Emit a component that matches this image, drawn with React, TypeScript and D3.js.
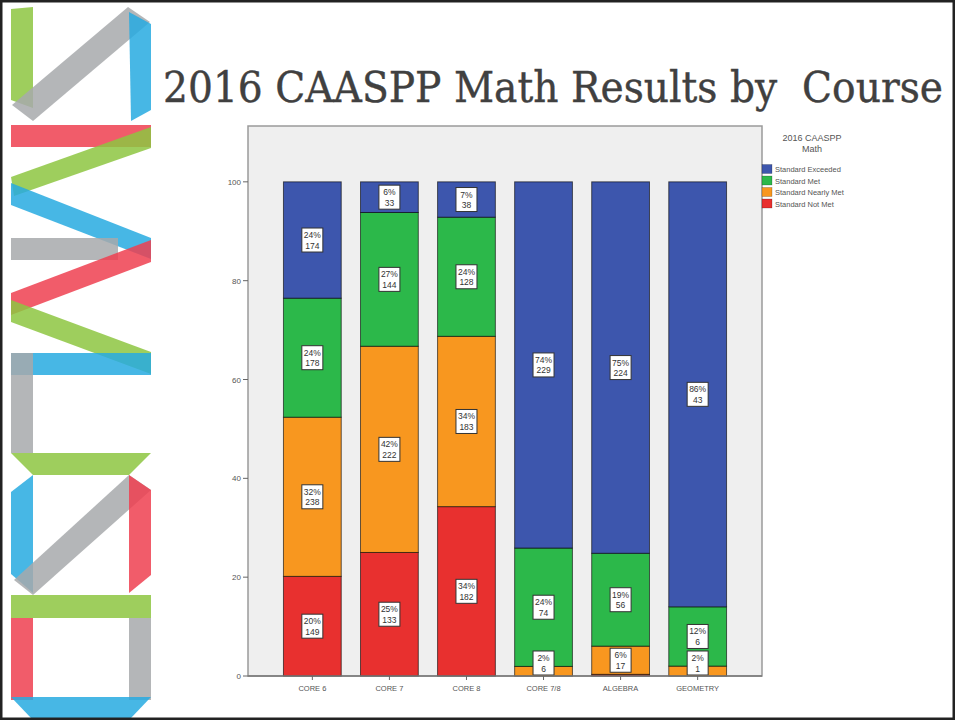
import { useEffect, useRef, useState } from 'react';
import * as d3 from 'd3';

// Counts per course, one array per performance level
const courses = ['CORE 6', 'CORE 7', 'CORE 8', 'CORE 7/8', 'ALGEBRA', 'GEOMETRY'];
const levels = ['Standard Exceeded', 'Standard Met', 'Standard Nearly Met', 'Standard Not Met'];
const notMet = [149, 133, 182, 0, 1, 0];
const nearlyMet = [238, 222, 183, 6, 17, 1];
const met = [178, 144, 128, 74, 56, 6];
const exceeded = [174, 33, 38, 229, 224, 43];
const yTicks = [0, 20, 40, 60, 80, 100];

const levelColors: Record<string, string> = {
  'Standard Exceeded': '#3d56ad',
  'Standard Met': '#2cb84a',
  'Standard Nearly Met': '#f8971f',
  'Standard Not Met': '#e8302f',
};

// decorative slide logo on the left edge
const LOGO = [
  { c: '#8dc641', p: '11,9 33,7 33,108 11,100' },
  { c: '#a7a9ac', p: '12,105 128,7 150,22 33,121' },
  { c: '#27aae1', p: '129,12 151,24 151,110 131,121' },
  { c: '#ef4050', p: '11,125 151,125 151,147 11,147' },
  { c: '#8dc641', p: '151,127 151,148 14,196 11,177' },
  { c: '#27aae1', p: '11,183 151,238 151,259 11,205' },
  { c: '#a7a9ac', p: '11,238 118,238 118,260 11,260' },
  { c: '#ef4050', p: '151,240 151,262 11,315 11,293' },
  { c: '#8dc641', p: '11,300 151,352 151,374 11,322' },
  { c: '#27aae1', p: '11,353 151,353 151,375 11,375' },
  { c: '#a7a9ac', p: '11,353 33,353 33,453 11,453' },
  { c: '#8dc641', p: '11,453 151,453 129,475 33,475' },
  { c: '#27aae1', p: '11,492 33,475 33,593 11,574' },
  { c: '#a7a9ac', p: '14,580 129,475 151,490 33,595' },
  { c: '#ef4050', p: '129,475 151,490 151,575 129,593' },
  { c: '#8dc641', p: '11,595 151,595 151,618 11,618' },
  { c: '#ef4050', p: '11,618 33,618 33,700 11,700' },
  { c: '#a7a9ac', p: '129,618 151,618 151,700 129,700' },
  { c: '#27aae1', p: '11,697 151,697 131,718 31,718' },
];

const W = 955;
const H = 720;
const plot = { left: 248, top: 126, right: 762, bottom: 676 };
const sans = '"Liberation Sans", Arial, sans-serif';
const TITLE_WIDTH = 780;

export default function App() {
  const titleRef = useRef<SVGTextElement>(null);
  const [titleScale, setTitleScale] = useState(0.9);

  useEffect(() => {
    document.body.style.margin = '0';
    if (titleRef.current) {
      const natural = titleRef.current.getComputedTextLength();
      if (natural > 0) setTitleScale(TITLE_WIDTH / natural);
    }
  }, []);

  const x = d3
    .scaleBand<string>()
    .domain(courses)
    .range([plot.left, plot.right])
    .paddingInner(0.25)
    .paddingOuter(0.46);
  const y = d3.scaleLinear().domain([0, 111.3]).range([plot.bottom, plot.top]);

  const byLevel: Record<string, number[]> = {
    'Standard Not Met': notMet,
    'Standard Nearly Met': nearlyMet,
    'Standard Met': met,
    'Standard Exceeded': exceeded,
  };
  const rows = courses.map((course, i) => {
    const total = notMet[i] + nearlyMet[i] + met[i] + exceeded[i];
    const row: Record<string, any> = { course };
    levels.forEach((l) => {
      row[l] = (byLevel[l][i] / total) * 100;
      row[l + '_n'] = byLevel[l][i];
    });
    return row;
  });
  const stackOrder = ['Standard Not Met', 'Standard Nearly Met', 'Standard Met', 'Standard Exceeded'];
  const series = d3.stack<Record<string, any>>().keys(stackOrder)(rows);

  return (
    <svg width={W} height={H} style={{ display: 'block', background: '#fff' }}>
      {/* logo */}
      <g>
        {LOGO.map((b, i) => (
          <polygon key={i} points={b.p} fill={b.c} opacity={0.85} />
        ))}
      </g>

      {/* title */}
      <g transform={`translate(163,102) scale(${titleScale},1)`}>
        <text
          ref={titleRef}
          x={0}
          y={0}
          fontFamily='"DejaVu Serif", serif'
          fontSize={43}
          fill="#404040"
          stroke="#404040"
          strokeWidth={0.4}
          style={{ whiteSpace: 'pre' }}
        >
          2016 CAASPP Math Results by  Course
        </text>
      </g>

      {/* plot frame */}
      <rect
        x={plot.left}
        y={plot.top}
        width={plot.right - plot.left}
        height={plot.bottom - plot.top}
        fill="#efefef"
        stroke="#9a9a9a"
        strokeWidth={1.5}
      />

      {/* y axis */}
      <g fontFamily={sans} fontSize={8} fill="#555">
        {yTicks.map((t) => (
          <g key={t}>
            <line x1={plot.left - 5} x2={plot.left} y1={y(t)} y2={y(t)} stroke="#666" />
            <text x={plot.left - 7} y={y(t) + 3} textAnchor="end">
              {t}
            </text>
          </g>
        ))}
      </g>

      {/* bars */}
      {series.map((s) => (
        <g key={s.key} fill={levelColors[s.key]}>
          {s.map((d, i) =>
            d[1] - d[0] > 0 ? (
              <rect
                key={i}
                x={x(courses[i])}
                y={y(d[1])}
                width={x.bandwidth()}
                height={y(d[0]) - y(d[1])}
                stroke="rgba(0,0,0,0.6)"
                strokeWidth={1}
              />
            ) : null
          )}
        </g>
      ))}

      {/* segment labels */}
      {series.map((s) =>
        s.map((d, i) => {
          const pct = d[1] - d[0];
          if (pct < 1) return null;
          const cx = (x(courses[i]) ?? 0) + x.bandwidth() / 2;
          const cy = Math.min(y((d[0] + d[1]) / 2), plot.bottom - 13);
          return (
            <g key={s.key + i} fontFamily={sans} fontSize={8.5} fill="#333" textAnchor="middle">
              <rect x={cx - 10.5} y={cy - 12} width={21} height={24} fill="#fff" stroke="#333" strokeWidth={1} />
              <text x={cx} y={cy - 2}>
                {Math.round(pct)}%
              </text>
              <text x={cx} y={cy + 8.5}>
                {d.data[s.key + '_n']}
              </text>
            </g>
          );
        })
      )}

      {/* x axis */}
      <line x1={plot.left} x2={plot.right} y1={plot.bottom} y2={plot.bottom} stroke="#777" strokeWidth={1.5} />
      <g fontFamily={sans} fontSize={7.5} fill="#555" textAnchor="middle">
        {courses.map((c) => {
          const cx = (x(c) ?? 0) + x.bandwidth() / 2;
          return (
            <g key={c}>
              <line x1={cx} x2={cx} y1={plot.bottom} y2={plot.bottom + 4} stroke="#666" />
              <text x={cx} y={plot.bottom + 15}>
                {c}
              </text>
            </g>
          );
        })}
      </g>

      {/* legend */}
      <g fontFamily={sans} fill="#555">
        <text x={812} y={141} fontSize={9} textAnchor="middle">
          2016 CAASPP
        </text>
        <text x={812} y={152} fontSize={9} textAnchor="middle">
          Math
        </text>
        {levels.map((l, i) => (
          <g key={l}>
            <rect x={762} y={164.5 + i * 11.5} width={10} height={9} fill={levelColors[l]} stroke="rgba(0,0,0,0.4)" strokeWidth={0.5} />
            <text x={775} y={172 + i * 11.5} fontSize={7.5}>
              {l}
            </text>
          </g>
        ))}
      </g>

      {/* slide border */}
      <rect x={1.25} y={1.25} width={W - 2.5} height={H - 2.5} fill="none" stroke="#222" strokeWidth={2.5} />
    </svg>
  );
}
